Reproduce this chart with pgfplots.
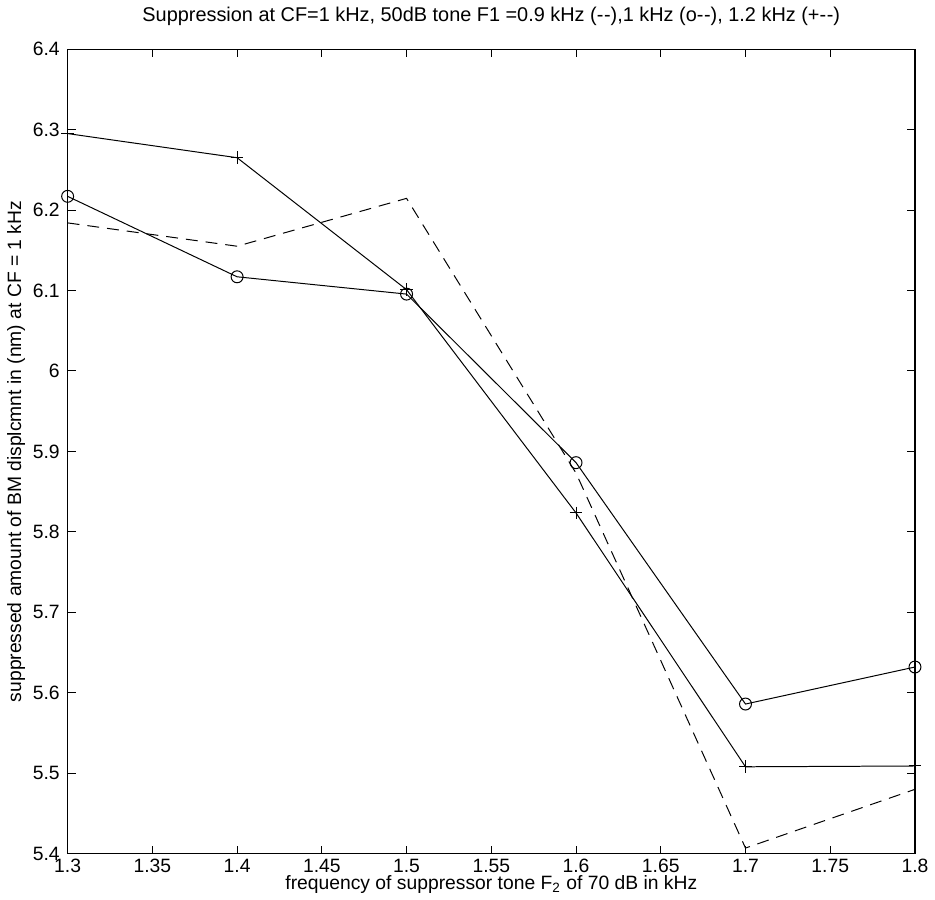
\documentclass[border=0pt]{standalone}
\usepackage{fontspec}
\setmainfont{Liberation Sans}
\usepackage{pgfplots}
\pgfplotsset{compat=1.18}
\begin{document}
\begin{tikzpicture}
\begin{axis}[
  scale only axis,
  width=426pt, height=404.5pt,
  xmin=1.3, xmax=1.8, ymin=5.4, ymax=6.4,
  xtick={1.3,1.35,...,1.81},
  ytick={5.4,5.5,...,6.41},
  tick align=inside,
  major tick length=4pt,
  axis line style={line width=0.6pt},
  every tick/.style={black, line width=0.5pt},
  font=\fontsize{9.7}{11.5}\selectfont,
  /pgf/number format/assume math mode=true,
  xticklabel style={yshift=1pt},
  yticklabel style={xshift=-0.5pt},
  title={Suppression at CF=1 kHz, 50dB tone F1 =0.9 kHz (-\kern0.3pt-),1 kHz (o-\kern0.3pt-), 1.2 kHz (+-\kern0.3pt-)},
  title style={yshift=2.5pt, font=\fontsize{10}{12}\selectfont},
  xlabel={frequency of suppressor tone F\textsubscript{2} of 70 dB in kHz},
  ylabel={suppressed amount of BM displcmnt in (nm) at CF = 1 kHz},
  xlabel style={yshift=5.5pt},
  ylabel style={yshift=-3pt},
  clip=false,
]
\addplot[black, line width=0.5pt, dash pattern=on 6pt off 4pt] coordinates {
(1.3,6.184) (1.4,6.155) (1.5,6.2145) (1.6,5.873) (1.7,5.407) (1.8,5.480)};
\addplot[black, line width=0.5pt, mark=o, mark size=3pt] coordinates {
(1.3,6.217) (1.4,6.117) (1.5,6.0955) (1.6,5.886) (1.7,5.586) (1.8,5.632)};
\addplot[black, line width=0.5pt, mark=+, mark size=3.2pt] coordinates {
(1.3,6.295) (1.4,6.265) (1.5,6.101) (1.6,5.8235) (1.7,5.508) (1.8,5.509)};
\end{axis}
\path (-34pt,-20.5pt) rectangle (433.5pt,428pt);
\end{tikzpicture}
\end{document}
